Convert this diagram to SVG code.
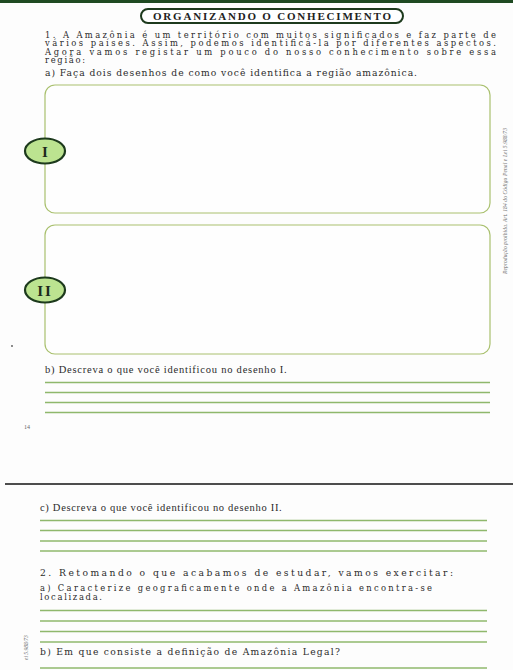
<svg xmlns="http://www.w3.org/2000/svg" width="513" height="670" viewBox="0 0 513 670">
<style>
.p{font-family:"DejaVu Serif","Liberation Serif",serif;font-size:8.4px;fill:#2b2b2b}
.r{font-family:"DejaVu Serif","Liberation Serif",serif;font-size:9.2px;fill:#2b2b2b}
.q{font-family:"Liberation Serif","DejaVu Serif",serif;font-size:10.5px;fill:#2b2b2b;letter-spacing:0.3px}
.box{fill:#fefefe;stroke:#a9c06e;stroke-width:1.2}
.ln{stroke:#8fb86c;stroke-width:1.3}
.badge{fill:#bce390;stroke:#1d3a1d;stroke-width:2.2}
.bt{font-family:"Liberation Serif","DejaVu Serif",serif;font-size:15px;font-weight:bold;fill:#1d2a1d;text-anchor:middle}
.tiny{font-family:"Liberation Serif",serif;font-size:5.5px;fill:#707070;font-style:italic}
</style>
<rect width="513" height="670" fill="#fdfdfd"/>
<rect x="0" y="0" width="513" height="3" fill="#1f4a22"/>

<g id="title">
<rect x="141" y="9" width="262" height="14" rx="7" fill="#fff" stroke="#1d3a1d" stroke-width="2"/>
<text x="272" y="20" text-anchor="middle" font-family="Liberation Serif,serif" font-size="11" font-weight="bold" fill="#222" textLength="238" lengthAdjust="spacing">ORGANIZANDO O CONHECIMENTO</text>
</g>

<g id="intro">
<text class="p" x="45" y="37.5" textLength="451" lengthAdjust="spacing">1. A Amazônia é um território com muitos significados e faz parte de</text>
<text class="p" x="45" y="46" textLength="451" lengthAdjust="spacing">vários países. Assim, podemos identificá-la por diferentes aspectos.</text>
<text class="p" x="45" y="54.5" textLength="451" lengthAdjust="spacing">Agora vamos registar um pouco do nosso conhecimento sobre essa</text>
<text class="p" x="45" y="63" textLength="40" lengthAdjust="spacing">região:</text>
<text class="r" x="45" y="75.5" textLength="372" lengthAdjust="spacing">a) Faça dois desenhos de como você identifica a região amazônica.</text>
</g>

<g id="box1">
<rect class="box" x="45" y="85" width="445" height="128" rx="10"/>
<ellipse class="badge" cx="45" cy="151" rx="20" ry="12.5"/>
<text class="bt" x="45" y="156.5">I</text>
</g>

<g id="box2">
<rect class="box" x="45" y="225" width="445" height="129" rx="10"/>
<ellipse class="badge" cx="45" cy="290" rx="20" ry="12.5"/>
<text class="bt" x="45" y="295.5" letter-spacing="2">II</text>
</g>

<text class="tiny" transform="translate(507 274) rotate(-90)" textLength="146" lengthAdjust="spacing">Reprodução proibida. Art. 184 do Código Penal e Lei 5.988/73</text>

<circle cx="12" cy="346" r="0.9" fill="#555"/>

<g id="qb">
<text class="q" x="45" y="373" textLength="242" lengthAdjust="spacing">b) Descreva o que você identificou no desenho I.</text>
</g>
<g id="lines1">
<line class="ln" x1="45" y1="382.5" x2="490" y2="382.5"/>
<line class="ln" x1="45" y1="392.5" x2="490" y2="392.5"/>
<line class="ln" x1="45" y1="402.5" x2="490" y2="402.5"/>
<line class="ln" x1="45" y1="412.5" x2="490" y2="412.5"/>
</g>
<text x="24" y="429" font-family="Liberation Serif,serif" font-size="6" fill="#666">14</text>

<line x1="5" y1="484" x2="513" y2="484" stroke="#4d4d4d" stroke-width="2.2"/>

<g id="qc">
<text class="q" x="40" y="511" textLength="242" lengthAdjust="spacing">c) Descreva o que você identificou no desenho II.</text>
</g>
<g id="lines2">
<line class="ln" x1="40" y1="520.5" x2="487" y2="520.5"/>
<line class="ln" x1="40" y1="530.5" x2="487" y2="530.5"/>
<line class="ln" x1="40" y1="541" x2="487" y2="541"/>
<line class="ln" x1="40" y1="551" x2="487" y2="551"/>
</g>

<g id="q2">
<text class="r" x="40" y="576" textLength="413" lengthAdjust="spacing">2. Retomando o que acabamos de estudar, vamos exercitar:</text>
<text class="p" x="40" y="591" textLength="392" lengthAdjust="spacing">a) Caracterize geograficamente onde a Amazônia encontra-se</text>
<text class="p" x="40" y="599.5" textLength="62" lengthAdjust="spacing">localizada.</text>
</g>
<g id="lines3">
<line class="ln" x1="40" y1="610.5" x2="487" y2="610.5"/>
<line class="ln" x1="40" y1="621" x2="487" y2="621"/>
<line class="ln" x1="40" y1="631.5" x2="487" y2="631.5"/>
<line class="ln" x1="40" y1="642" x2="487" y2="642"/>
</g>
<g id="q2b">
<text class="r" x="40" y="655" textLength="300" lengthAdjust="spacing">b) Em que consiste a definição de Amazônia Legal?</text>
<line class="ln" x1="40" y1="668" x2="487" y2="668"/>
</g>
<text class="tiny" transform="translate(28 660) rotate(-90)">ei 5.988/73</text>
</svg>
